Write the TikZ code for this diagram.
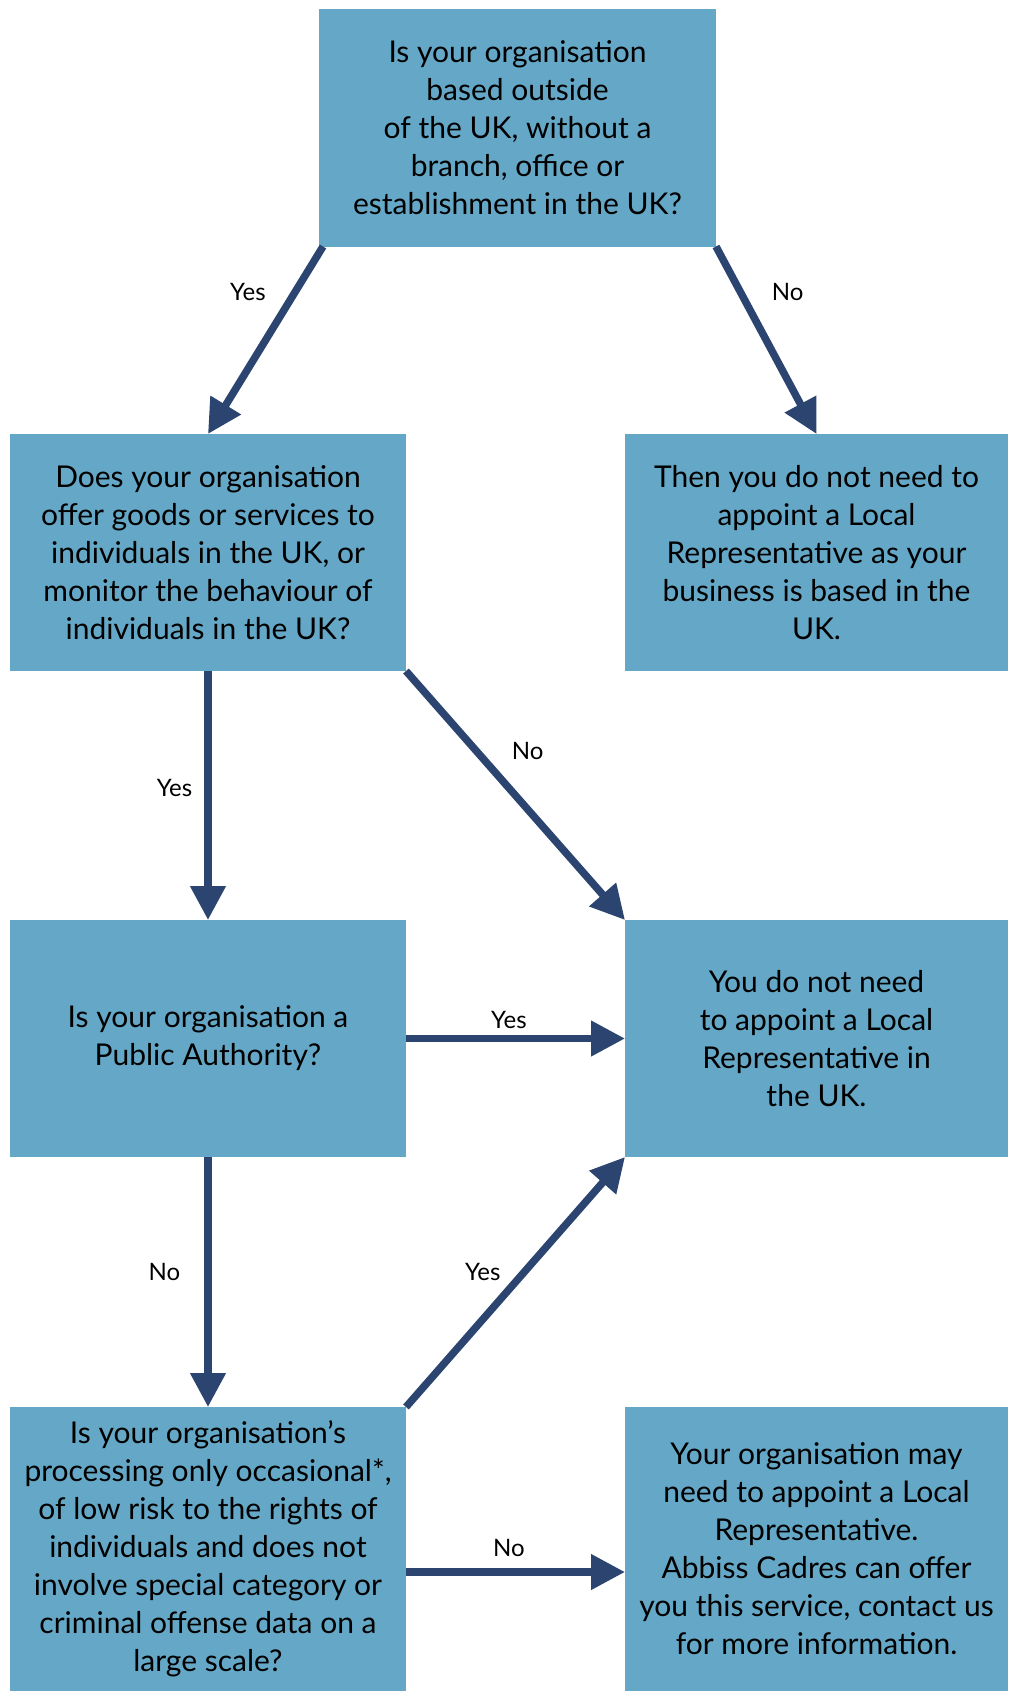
\documentclass[tikz,border=0pt]{standalone}
\usepackage{fontspec}
\setmainfont{Lato}
\usetikzlibrary{positioning, arrows.meta}
\definecolor{boxblue}{HTML}{65A7C6}
\definecolor{arrownavy}{HTML}{2B4570}

\begin{document}
\begin{tikzpicture}[
    node distance=124.5pt and 108.5pt,
    box/.style={rectangle, fill=boxblue, minimum width=198pt, minimum height=118.5pt, align=center, inner sep=0pt, outer sep=0pt, font=\fontsize{15}{19}\selectfont},
    answer/.style={box, minimum width=191.5pt},
    arrow/.style={-{Triangle[length=17pt,width=17pt]}, draw=arrownavy, line width=3.75pt},
    lbl/.style={font=\fontsize{12}{13}\selectfont, inner sep=0pt}
]
\useasboundingbox (0,0) rectangle (504pt,-845.5pt);

% Question 1: Based outside the UK (Top)
\node[box, minimum width=198.5pt] (Q1) at (258.75pt,-64pt) {Is your organisation\\based outside\\of the UK, without a\\branch, office or\\establishment in the UK?};

% Question 2: Goods/services or monitoring (Left)
\node[box] (Q2) at (104pt,-276.25pt) {Does your organisation\\offer goods or services to\\individuals in the UK, or\\monitor the behaviour of\\individuals in the UK?};
\node[answer, right=of Q2, xshift=1pt] (A1) {Then you do not need to\\appoint a Local\\Representative as your\\business is based in the\\UK.};

% Question 3: Public authority
\node[box, below=of Q2] (Q3) {Is your organisation a\\Public Authority?};
\node[answer, right=of Q3, xshift=1pt] (A2) {You do not need\\to appoint a Local\\Representative in\\the UK.};

% Question 4: Occasional processing (Bottom)
\node[box, below=125pt of Q3, minimum height=142pt] (Q4) {Is your organisation’s\\processing only occasional*,\\of low risk to the rights of\\individuals and does not\\involve special category or\\criminal offense data on a\\large scale?};
\node[answer, right=of Q4, xshift=1pt, minimum height=142pt] (A3) {Your organisation may\\need to appoint a Local\\Representative.\\Abbiss Cadres can offer\\you this service, contact us\\for more information.};

% Edges
\draw[arrow] ([xshift=2pt]Q1.south west) -- node[lbl, pos=0.24, left=13pt] {Yes} (Q2.north);
\draw[arrow] (Q1.south east) -- node[lbl, pos=0.24, right=14pt] {No} (A1.north);

\draw[arrow] (Q2) -- node[lbl, pos=0.47, left=6pt] {Yes} (Q3);
\draw[arrow] (Q2.south east) -- node[lbl, pos=0.32, right=16pt] {No} (A2.north west);

\draw[arrow] (Q3) -- node[lbl, pos=0.47, above=3pt] {Yes} (A2);
\draw[arrow] (Q3) -- node[lbl, pos=0.46, left=12pt] {No} (Q4);

\draw[arrow] (Q4.north east) -- node[lbl, pos=0.54, left=10pt] {Yes} (A2.south west);
\draw[arrow] ([yshift=-11.5pt]Q4.east) -- node[lbl, pos=0.47, above=6pt] {No} ([yshift=-11.5pt]A3.west);

\end{tikzpicture}
\end{document}
